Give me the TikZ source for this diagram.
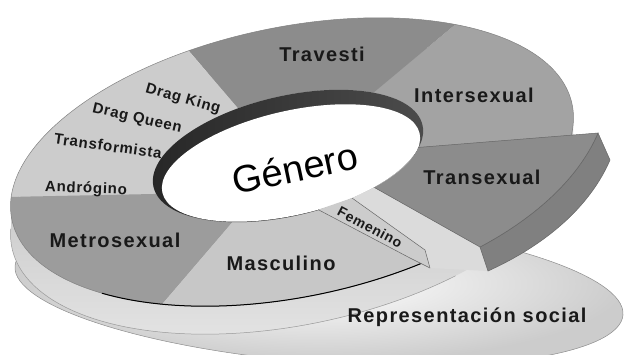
\documentclass[tikz,border=0pt]{standalone}
\usepackage{fontspec}
\setmainfont{Liberation Sans}
\pgfmathdeclarefunction{ox}{1}{\pgfmathparse{292+286*cos(#1)*0.9796-135*sin(#1)*0.2011}}
\pgfmathdeclarefunction{oy}{1}{\pgfmathparse{192+286*cos(#1)*0.2011+135*sin(#1)*0.9796}}
\pgfmathdeclarefunction{rx}{1}{\pgfmathparse{288+138*cos(#1)*0.9744-60*sin(#1)*0.2250}}
\pgfmathdeclarefunction{ry}{1}{\pgfmathparse{198+138*cos(#1)*0.2250+60*sin(#1)*0.9744}}
\pgfmathdeclarefunction{hx}{1}{\pgfmathparse{291+132*cos(#1)*0.9744-52*sin(#1)*0.2250}}
\pgfmathdeclarefunction{hy}{1}{\pgfmathparse{191+132*cos(#1)*0.2250+52*sin(#1)*0.9744}}
\definecolor{cLight}{gray}{0.80}
\definecolor{cTrav}{gray}{0.55}
\definecolor{cInter}{gray}{0.64}
\definecolor{cMetro}{gray}{0.61}
\definecolor{cMasc}{gray}{0.78}
\definecolor{cTrans}{gray}{0.55}
\definecolor{cTransSide}{gray}{0.50}
\definecolor{cFace}{gray}{0.86}
\definecolor{cFem}{gray}{0.80}
\tikzset{
  lab/.style={font=\bfseries\fontsize{20}{20}\selectfont\addfontfeature{LetterSpace=7}, inner sep=0pt, text=black!90},
  small/.style={font=\bfseries\fontsize{15}{15}\selectfont\addfontfeature{LetterSpace=5}, inner sep=0pt, text=black!90},
  edge/.style={draw=black!60, line width=0.5pt}
}
\begin{document}
\begin{tikzpicture}[x=1pt,y=1pt]
\useasboundingbox (0,0) rectangle (628,354);
% base plate: Representacion social
\shadedraw[rotate around={-4.6:(319,63.5)}, inner color=white, outer color=black!20, draw=black!45, line width=0.5pt]
  (319,63.5) ellipse [x radius=305, y radius=72];
% ring side
\shade[top color=black!32, bottom color=black!10]
  (11,148.4) -- (11,120.4) -- (573,207.6) -- (573,235.6) -- cycle
  [rotate around={11.6:(292,164)}] (292,164) ellipse [x radius=286, y radius=135];
\draw[black!40, line width=0.5pt] plot[domain=172:300, samples=60] ({ox(\x)},{oy(\x)-28});
% top surface sectors
\fill[cInter] plot[domain=-40:49, samples=40] ({ox(\x)},{oy(\x)}) -- plot[domain=45:-30, samples=30] ({rx(\x)},{ry(\x)}) -- cycle;
\fill[cTrav] plot[domain=49:106, samples=30] ({ox(\x)},{oy(\x)}) -- plot[domain=106:45, samples=30] ({rx(\x)},{ry(\x)}) -- cycle;
\fill[cLight] plot[domain=106:170.5, samples=30] ({ox(\x)},{oy(\x)}) -- plot[domain=187:106, samples=30] ({rx(\x)},{ry(\x)}) -- cycle;
\fill[cMetro] plot[domain=170.5:237, samples=30] ({ox(\x)},{oy(\x)}) -- plot[domain=240:187, samples=30] ({rx(\x)},{ry(\x)}) -- cycle;
\fill[cMasc] plot[domain=237:330, samples=40] ({ox(\x)},{oy(\x)}) -- plot[domain=300:240, samples=30] ({rx(\x)},{ry(\x)}) -- cycle;
% hole: inner wall and floor
\shade[rotate around={13:(288,198)}, left color=black!85, middle color=black!35, right color=black!70]
  (288,198) ellipse [x radius=138, y radius=60];
\begin{scope}
  \clip[rotate around={13:(288,198)}] (288,198) ellipse [x radius=138, y radius=60];
  \fill[white, rotate around={13:(291,191)}] (291,191) ellipse [x radius=132, y radius=52];
\end{scope}
% outer outline
\draw[black!50, line width=0.5pt, rotate around={11.6:(292,192)}] (292,192) ellipse [x radius=286, y radius=135];
\draw[black, line width=1pt] plot[domain=222:292, samples=40] ({ox(\x)},{oy(\x)});
% Femenino strip
\fill[cFem] ({hx(-83)},{hy(-83)}) -- ({hx(-67)},{hy(-67)}) -- (425,104) -- (430,86) -- (410,96) -- cycle;
\draw[edge] ({hx(-83)},{hy(-83)}) -- (410,96) -- (430,86);
% block radial face
\fill[cFace] ({hx(-67)},{hy(-67)}) -- ({hx(-55)},{hy(-55)}) -- (480,107) -- (488,83) -- (430,86) -- (425,104) -- cycle;
\draw[edge] ({hx(-67)},{hy(-67)}) -- (425,104) -- (430,86);
% Transexual block side
\fill[cTransSide] (480,107) .. controls (540,139) and (580,179) .. (598,221) -- (610,194) .. controls (592,152) and (552,112) .. (488,83) -- cycle;
\draw[edge] (480,107) .. controls (540,139) and (580,179) .. (598,221) -- (610,194) .. controls (592,152) and (552,112) .. (488,83) -- cycle;
% Transexual block top
\fill[cTrans] ({hx(-15)},{hy(-15)}) -- plot[domain=-15:-55, samples=20] ({hx(\x)},{hy(\x)}) -- (480,107) .. controls (540,139) and (580,179) .. (598,221) -- cycle;
\draw[edge] ({hx(-55)},{hy(-55)}) -- (480,107) .. controls (540,139) and (580,179) .. (598,221) -- ({hx(-15)},{hy(-15)});
% labels
\node[lab] (trav) at (322,300) {Travesti};
\node[lab] (inter) at (474,259) {Intersexual};
\node[lab] (trans) at (482,177) {Transexual};
\node[small, rotate=-16] (dk) at (183,255) {Drag King};
\node[small, rotate=-13] (dq) at (137,235) {Drag Queen};
\node[small, rotate=-8] (tf) at (108,208) {Transformista};
\node[small, rotate=-2] (an) at (86,165) {Andrógino};
\node[lab] (metro) at (115,114) {Metrosexual};
\node[lab] (masc) at (281,91) {Masculino};
\node[small, font=\bfseries\fontsize{14}{14}\selectfont\addfontfeature{LetterSpace=5}, rotate=-28] (fem) at (370,127) {Femenino};
\node[lab] (rep) at (467,37) {Representación social};
\node[inner sep=0pt, rotate=12, font=\fontsize{38}{38}\selectfont] (gen) at (295,186) {Género};
\end{tikzpicture}
\end{document}
